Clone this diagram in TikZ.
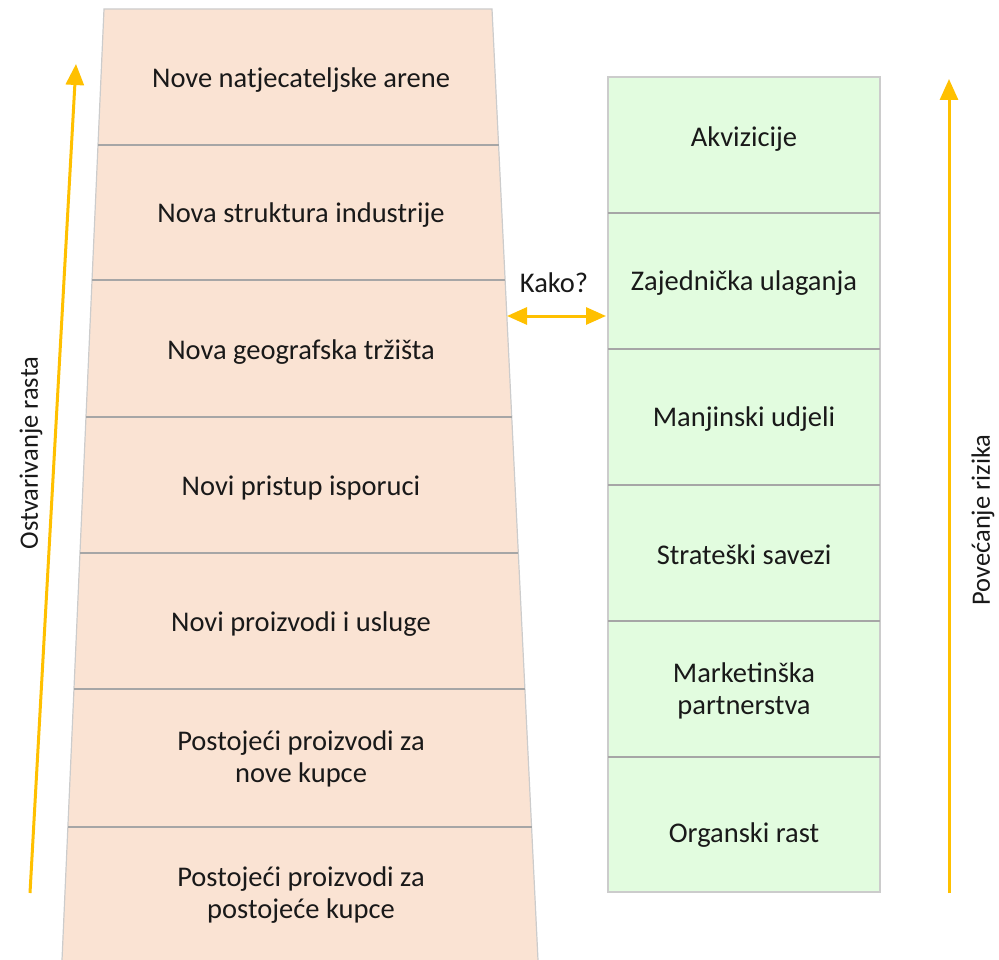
\documentclass[tikz,border=0pt]{standalone}
\usepackage{fontspec}
\setmainfont{Carlito}
\usetikzlibrary{arrows.meta,calc}
\definecolor{peach}{HTML}{FAE3D3}
\definecolor{mint}{HTML}{E2FCDF}
\definecolor{edgegray}{HTML}{CCCCCC}
\definecolor{sepgray}{HTML}{A6A6A6}
\definecolor{amber}{HTML}{FFC000}
\begin{document}
\begin{tikzpicture}[x=1pt,y=-1pt,
  lbl/.style={font=\fontsize{28.5}{32.5}\selectfont, align=center, text=black!90, yshift=-2pt},
  sidelbl/.style={font=\fontsize{26.5}{30}\selectfont, text=black!90, rotate=90},
  sepline/.style={draw=sepgray, line width=1.4pt},
  outline/.style={draw=edgegray, line width=1.2pt},
  amberarrow/.style={draw=amber, line width=3pt, -{Triangle[width=18pt,length=21pt]}},
  amberdouble/.style={draw=amber, line width=3pt, {Triangle[width=17pt,length=20pt]}-{Triangle[width=17pt,length=20pt]}}]
\useasboundingbox (0,0) rectangle (999,960);
% trapezoid
\coordinate (TL) at (104,9);
\coordinate (TR) at (492,9);
\coordinate (BL) at (62,960);
\coordinate (BR) at (538,960);
\fill[peach] (TL) -- (TR) -- (BR) -- (BL) -- cycle;
\draw[outline] (BL) -- (TL) -- (TR) -- (BR);
\foreach \t in {0.1430,0.2850,0.4290,0.5720,0.7150,0.8601}
  \draw[sepline] ($(TL)!\t!(BL)$) -- ($(TR)!\t!(BR)$);
% left texts
\node[lbl] (l1) at (301,78) {Nove natjecateljske arene};
\node[lbl] (l2) at (301,213) {Nova struktura industrije};
\node[lbl] (l3) at (301,350) {Nova geografska tržišta};
\node[lbl] (l4) at (301,486) {Novi pristup isporuci};
\node[lbl] (l5) at (301,622) {Novi proizvodi i usluge};
\node[lbl] (l6) at (301,757) {Postojeći proizvodi za\\nove kupce};
\node[lbl] (l7) at (301,893) {Postojeći proizvodi za\\postojeće kupce};
% right stack
\fill[mint] (608,77) rectangle (880,892);
\draw[outline] (608,77) rectangle (880,892);
\foreach \yy in {213,349,485,621,757}
  \draw[sepline] (608,\yy) -- (880,\yy);
\node[lbl] (r1) at (744,137) {Akvizicije};
\node[lbl] (r2) at (744,281) {Zajednička ulaganja};
\node[lbl] (r3) at (744,417) {Manjinski udjeli};
\node[lbl] (r4) at (744,553) {Strateški savezi};
\node[lbl] (r5) at (744,689) {Marketinška\\partnerstva};
\node[lbl] (r6) at (744,833) {Organski rast};
% connector
\coordinate (kL) at (507,316);
\coordinate (kR) at (606,316);
\draw[amberdouble] (kL) -- (kR);
\node[lbl] (kako) at (554,281) {Kako?};
% side arrows
\coordinate (a1s) at (30,893);
\coordinate (a1e) at (76,64);
\draw[amberarrow] (a1s) -- (a1e);
\node[sidelbl] (ost) at (31,453) {Ostvarivanje rasta};
\coordinate (a2s) at (949,893);
\coordinate (a2e) at (949,79);
\draw[amberarrow] (a2s) -- (a2e);
\node[sidelbl] (pov) at (983,520) {Povećanje rizika};
\end{tikzpicture}
\end{document}
